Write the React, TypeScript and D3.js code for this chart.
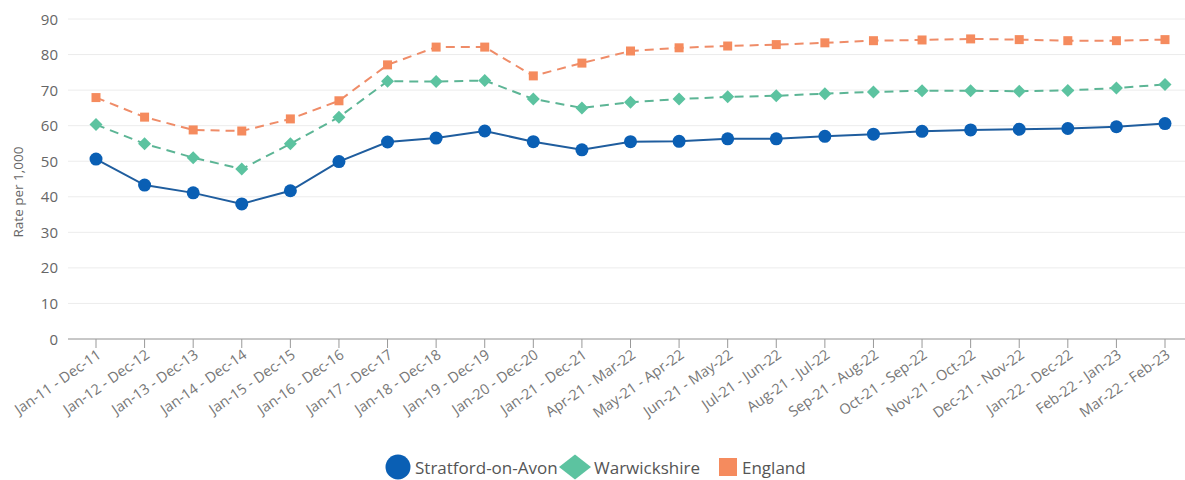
import React from "react";
import * as d3 from "d3";

const categories = [
  "Jan-11 - Dec-11", "Jan-12 - Dec-12", "Jan-13 - Dec-13", "Jan-14 - Dec-14",
  "Jan-15 - Dec-15", "Jan-16 - Dec-16", "Jan-17 - Dec-17", "Jan-18 - Dec-18",
  "Jan-19 - Dec-19", "Jan-20 - Dec-20", "Jan-21 - Dec-21", "Apr-21 - Mar-22",
  "May-21 - Apr-22", "Jun-21 - May-22", "Jul-21 - Jun-22", "Aug-21 - Jul-22",
  "Sep-21 - Aug-22", "Oct-21 - Sep-22", "Nov-21 - Oct-22", "Dec-21 - Nov-22",
  "Jan-22 - Dec-22", "Feb-22 - Jan-23", "Mar-22 - Feb-23",
];

const stratford = [50.6, 43.3, 41.1, 38.0, 41.7, 49.9, 55.4, 56.5, 58.5, 55.5, 53.2, 55.5, 55.6, 56.3, 56.3, 57.0, 57.6, 58.4, 58.8, 59.0, 59.2, 59.7, 60.6];
const warwickshire = [60.3, 54.9, 51.0, 47.8, 54.9, 62.4, 72.5, 72.4, 72.7, 67.5, 65.0, 66.6, 67.5, 68.1, 68.4, 69.0, 69.5, 69.8, 69.8, 69.7, 69.9, 70.6, 71.6];
const england = [67.9, 62.4, 58.8, 58.5, 61.9, 67.0, 77.1, 82.1, 82.1, 74.0, 77.6, 81.0, 81.9, 82.4, 82.8, 83.3, 83.9, 84.1, 84.4, 84.2, 83.9, 83.9, 84.2];

const yTicks = [0, 10, 20, 30, 40, 50, 60, 70, 80, 90];

const seriesNames = ["Stratford-on-Avon", "Warwickshire", "England"];
const colors = ["#0a5fb4", "#5cc3a0", "#f58b5e"];
const lineColors = ["#1f5d9e", "#5cb595", "#ef8c68"];

const W = 1185;
const H = 480;
const FONT = "'Open Sans', Lato, sans-serif";

export default function App() {
  const x = d3.scalePoint<string>().domain(categories).range([96, 1165]);
  const y = d3.scaleLinear().domain([0, 90]).range([339, 19]);

  const line = d3
    .line<number>()
    .x((_, i) => x(categories[i]) as number)
    .y((d) => y(d));

  const all = [stratford, warwickshire, england];
  const diamond = (cx: number, cy: number, rx: number, ry: number) =>
    `M${cx},${cy - ry}L${cx + rx},${cy}L${cx},${cy + ry}L${cx - rx},${cy}Z`;

  return (
    <svg width={W} height={H} style={{ position: "absolute", left: 0, top: 0, background: "#fff" }}>
      {yTicks.map((t) => (
        <line key={t} x1={68} x2={W} y1={y(t)} y2={y(t)} stroke="#ececec" strokeWidth={1} />
      ))}
      {yTicks.map((t) => (
        <text key={"yl" + t} x={58} y={y(t) + 5.5} textAnchor="end" fontFamily={FONT} fontSize={15} fill="#666">
          {t}
        </text>
      ))}
      <text
        transform={`translate(23,192) rotate(-90)`}
        textAnchor="middle"
        fontFamily={FONT}
        fontSize={13.5}
        fill="#666"
      >
        Rate per 1,000
      </text>
      <line x1={68} x2={W} y1={y(0)} y2={y(0)} stroke="#999" strokeWidth={1.2} />
      {categories.map((c) => (
        <g key={c}>
          <line x1={x(c)} x2={x(c)} y1={y(0)} y2={y(0) + 9} stroke="#999" strokeWidth={1} />
          <text
            transform={`translate(${(x(c) as number) + 6},${y(0) + 18}) rotate(-35)`}
            textAnchor="end"
            fontFamily={FONT}
            fontSize={14.5}
            fill="#777"
          >
            {c}
          </text>
        </g>
      ))}
      {all.map((s, k) => (
        <path
          key={"l" + k}
          d={line(s) || ""}
          fill="none"
          stroke={lineColors[k]}
          strokeWidth={2}
          strokeDasharray={k === 0 ? undefined : "9,6"}
        />
      ))}
      {stratford.map((v, i) => (
        <circle key={"s" + i} cx={x(categories[i])} cy={y(v)} r={6.5} fill={colors[0]} />
      ))}
      {warwickshire.map((v, i) => (
        <path key={"w" + i} d={diamond(x(categories[i]) as number, y(v), 6.5, 6.5)} fill={colors[1]} />
      ))}
      {england.map((v, i) => (
        <rect key={"e" + i} x={(x(categories[i]) as number) - 4.5} y={y(v) - 4.5} width={9} height={9} fill={colors[2]} />
      ))}
      <g fontFamily={FONT} fontSize={17} fill="#555">
        <circle cx={398} cy={467} r={12.5} fill={colors[0]} />
        <text x={415} y={474}>{seriesNames[0]}</text>
        <path d={diamond(575, 467, 16, 12.5)} fill={colors[1]} />
        <text x={594} y={474}>{seriesNames[1]}</text>
        <rect x={719} y={458} width={18} height={18} fill={colors[2]} />
        <text x={742} y={474}>{seriesNames[2]}</text>
      </g>
    </svg>
  );
}
